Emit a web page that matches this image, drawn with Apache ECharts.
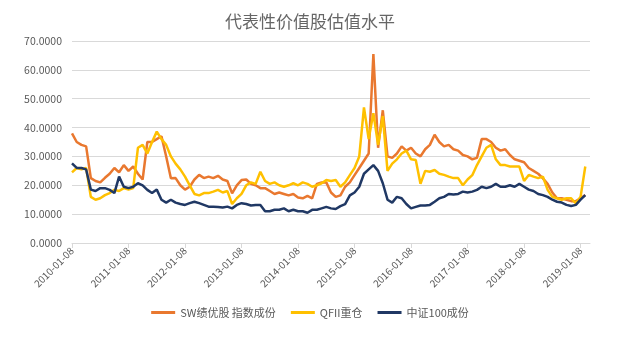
<!DOCTYPE html>
<html>
<head>
<meta charset="utf-8">
<script src="https://cdn.jsdelivr.net/npm/echarts@6/dist/echarts.min.js"></script>
<style>html,body{margin:0;padding:0;background:#fff;}#c{width:620px;height:337px;}</style>
</head>
<body>
<div id="c"></div>
<script>
var title = '代表性价值股估值水平';
var seriesNames = ['SW绩优股 指数成份', 'QFII重仓', '中证100成份'];
var tickLabels = ['2010-01-08','2011-01-08','2012-01-08','2013-01-08','2014-01-08','2015-01-08','2016-01-08','2017-01-08','2018-01-08','2019-01-08'];
// monthly categories 2010-01 .. 2019-03
var categories = [];
for (var y = 2010; y <= 2019; y++) {
  for (var mo = 1; mo <= 12; mo++) {
    if (y === 2019 && mo > 3) break;
    categories.push(y + '-' + (mo < 10 ? '0' + mo : mo) + '-08');
  }
}
var swValues = [
 38,35,34,33.5,22.5,21.5,21,22.6,24,26,24.5,27,
 25,26.5,24,22,35,35,36,37,30,22.4,22.5,20,
 18.5,19.5,22,23.6,22.5,23,22.5,23.3,22,21.5,17.2,20,
 21.8,22,20.5,20,19,19,18,17,17.5,17,16.5,17,
 15.8,15.5,16.3,15.5,20.5,21,21,17.5,16,16.5,19.5,21,
 23.5,26,28.5,31,65.5,33,46,30,29.5,31,33.5,32,
 33,31,30,32.5,34,37.5,35,33.5,34,32.5,32,30.5,
 30,29,29.5,36,36,35,33,32,32.5,30.5,29,28.5,
 28,26,25,24,22.4,20.5,17.5,15.5,15.5,15,14.5,14.5,
 15.5,16.6
];
var qfiiValues = [
 24.5,26,25.5,26,16,15,15.5,16.6,17.3,18.4,18,19,
 18.5,19,33,34,31,35,38.6,36,34,30,27.5,25.5,
 23,20,17,16.5,17.3,17.3,17.8,18.4,17.5,18,13.5,15.5,
 17,20,21,20.5,24.7,21.5,20.5,21,20,19.5,20,20.7,
 20,21,20.5,19.5,20,20.7,21.8,21.5,21.8,19.5,21,23.5,
 26,30,47,36,45,34,44,25,27.5,29,31,32,
 29,28.8,20.5,25,24.7,25.3,24,23.6,23,22.5,22.5,20,
 22,23.5,27,30,33,34,29,27,27,26.5,26.5,26.5,
 21.5,23.6,23,22.5,23,18.4,16,15.5,15,15.5,15.5,13.7,
 16,26.5
];
var csiValues = [
 27.6,26,26,25.5,18.5,18,19,19,18.4,17.3,23,19.5,
 19,19.5,20.7,20,18.4,17.3,18.5,15,14,15,14,13.5,
 13.2,13.8,14.3,13.8,13.2,12.6,12.6,12.5,12.3,12.6,12,13.2,
 13.8,13.5,13,13.2,13.2,11,11,11.5,11.5,12,11,11.5,
 11,11,10.5,11.5,11.5,12,12.5,12,11.8,12.8,13.5,16.5,
 17.5,19.5,24,25.5,27,25,20.7,15,14,16,15.5,13.5,
 12,12.5,13,13,13.2,14.3,15.5,16,17,16.8,17,17.8,
 17.5,17.8,18.4,19.5,19,19.5,20.5,19.5,19.5,20,19.5,20.5,
 19.5,18.5,18,17,16.6,16,15,14.3,14,13.2,12.8,13.2,
 15,16.6
];
var colors = ['#E9782F', '#FFC000', '#203864'];
var txt = '#595959';
var ff = '"Noto Sans CJK SC", "Noto Sans", sans-serif';
var chart = echarts.init(document.getElementById('c'));
function isYearTick(i) { return tickLabels.indexOf(categories[i]) >= 0; }
var data = [swValues, qfiiValues, csiValues];
chart.setOption({
  animation: false,
  title: {
    text: title, left: 'center', top: 8,
    textStyle: { color: '#666', fontSize: 17, fontWeight: 'normal', fontFamily: ff }
  },
  legend: {
    bottom: 14, left: 'center', itemWidth: 24, itemHeight: 3, itemGap: 15,
    icon: 'rect',
    textStyle: { color: txt, fontSize: 11, fontFamily: ff },
    data: seriesNames
  },
  grid: { left: 72, right: 30, top: 41, bottom: 94 },
  xAxis: {
    type: 'category', boundaryGap: false, data: categories,
    axisLine: { lineStyle: { color: '#d9d9d9' } },
    axisTick: { show: true, interval: function (i) { return isYearTick(i); }, lineStyle: { color: '#d9d9d9' }, length: 5 },
    axisLabel: {
      interval: function (i) { return isYearTick(i); },
      rotate: 45, color: txt, fontSize: 10, fontFamily: ff, margin: 6
    },
    splitLine: { show: false }
  },
  yAxis: {
    type: 'value', min: 0, max: 70, interval: 10,
    axisLine: { show: false }, axisTick: { show: false },
    axisLabel: { color: txt, fontSize: 10.5, fontFamily: ff, margin: 10,
      formatter: function (v) { return v.toFixed(4); } },
    splitLine: { lineStyle: { color: '#d9d9d9', width: 1 } }
  },
  series: seriesNames.map(function (n, k) {
    return {
      name: n, type: 'line', data: data[k], symbol: 'none', showSymbol: false,
      lineStyle: { color: colors[k], width: 2.5 }, itemStyle: { color: colors[k] },
      z: 2 + k
    };
  })
});
</script>
</body>
</html>
